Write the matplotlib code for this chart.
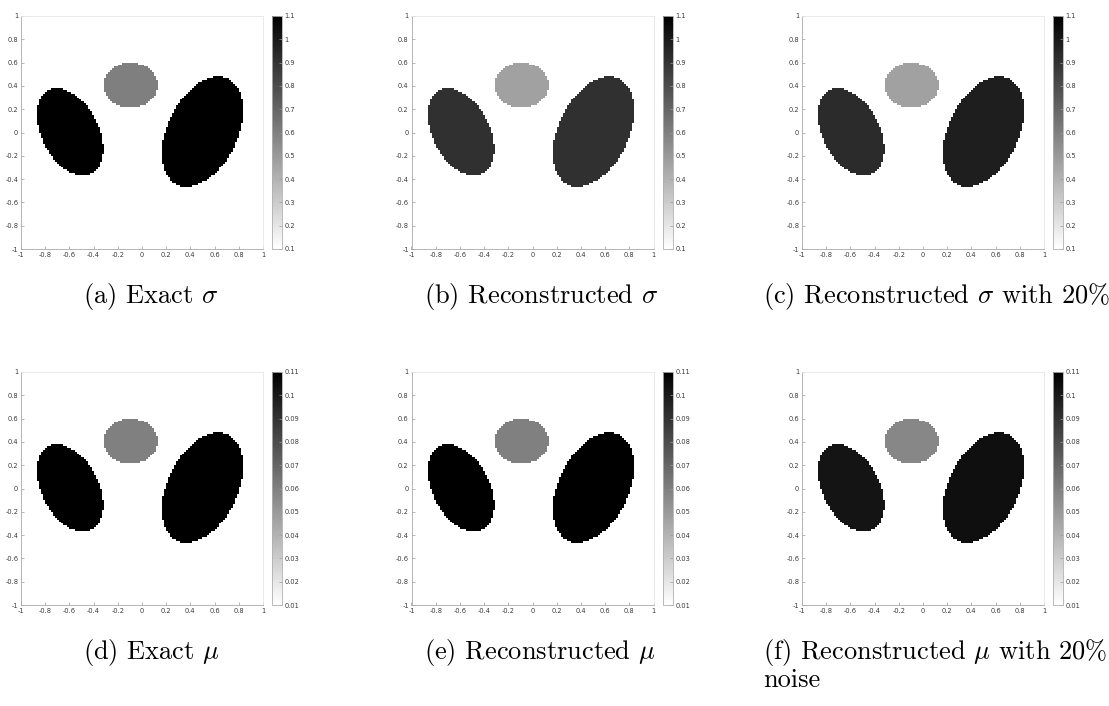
import numpy as np
import matplotlib
matplotlib.use("Agg")
import matplotlib.pyplot as plt

plt.rcParams['mathtext.fontset'] = 'cm'

# phantom shapes: centre x, centre y, semi-axis a, semi-axis b, angle (deg)
shape_cx = [-0.095, -0.595, 0.50]
shape_cy = [0.405, 0.005, 0.007]
shape_a = [0.225, 0.40, 0.50]
shape_b = [0.195, 0.235, 0.29]
shape_ang = [0, 115, 66]

# values per panel (a)..(f): background, disk, left ellipse, right ellipse
bg_vals = [0.1, 0.1, 0.1, 0.01, 0.01, 0.01]
disk_vals = [0.6, 0.47, 0.47, 0.06, 0.06, 0.057]
left_vals = [1.1, 0.91, 0.93, 0.11, 0.11, 0.102]
right_vals = [1.1, 0.91, 0.98, 0.11, 0.11, 0.104]
cmin = [0.1, 0.1, 0.1, 0.01, 0.01, 0.01]
cmax = [1.1, 1.1, 1.1, 0.11, 0.11, 0.11]

captions = [r"(a) Exact $\sigma$", r"(b) Reconstructed $\sigma$",
            r"(c) Reconstructed $\sigma$ with 20%",
            r"(d) Exact $\mu$", r"(e) Reconstructed $\mu$",
            r"(f) Reconstructed $\mu$ with 20%"]
extra_line = ["", "", "", "", "", "noise"]

xy_ticks = [-1, -0.8, -0.6, -0.4, -0.2, 0, 0.2, 0.4, 0.6, 0.8, 1]
xy_labels = ["-1", "-0.8", "-0.6", "-0.4", "-0.2", "0", "0.2", "0.4", "0.6", "0.8", "1"]
cb_sigma_ticks = [0.1, 0.2, 0.3, 0.4, 0.5, 0.6, 0.7, 0.8, 0.9, 1.0, 1.1]
cb_sigma_labels = ["0.1", "0.2", "0.3", "0.4", "0.5", "0.6", "0.7", "0.8", "0.9", "1", "1.1"]
cb_mu_ticks = [0.01, 0.02, 0.03, 0.04, 0.05, 0.06, 0.07, 0.08, 0.09, 0.10, 0.11]
cb_mu_labels = ["0.01", "0.02", "0.03", "0.04", "0.05", "0.06", "0.07", "0.08", "0.09", "0.1", "0.11"]

N = 120
W, H = 1109, 706

# grid of cell centres
g = (np.arange(N) + 0.5) / N * 2 - 1
X, Y = np.meshgrid(g, g)


def inside(k):
    t = np.deg2rad(shape_ang[k])
    dx = X - shape_cx[k]
    dy = Y - shape_cy[k]
    u = dx * np.cos(t) + dy * np.sin(t)
    v = -dx * np.sin(t) + dy * np.cos(t)
    return (u / shape_a[k]) ** 2 + (v / shape_b[k]) ** 2 <= 1


masks = [inside(k) for k in range(3)]

fig = plt.figure(figsize=(W / 100, H / 100), dpi=100)

col_left = [21, 411.5, 802]
row_top = [16, 372]
ax_w, ax_h = 242, 233
cap_x = [83, 424, 763]
cap_base = [303, 659]

for i in range(6):
    r, c = divmod(i, 3)
    img = np.full((N, N), bg_vals[i])
    img[masks[0]] = disk_vals[i]
    img[masks[1]] = left_vals[i]
    img[masks[2]] = right_vals[i]

    left = col_left[c] / W
    bottom = (H - row_top[r] - ax_h) / H
    ax = fig.add_axes([left, bottom, ax_w / W, ax_h / H])
    im = ax.imshow(img, extent=[-1, 1, -1, 1], origin='lower', aspect='auto',
                   cmap='gray_r', vmin=cmin[i], vmax=cmax[i], interpolation='nearest')
    ax.set_xticks(xy_ticks)
    ax.set_xticklabels(xy_labels)
    ax.set_yticks(xy_ticks)
    ax.set_yticklabels(xy_labels)
    ax.tick_params(direction='in', length=2, width=0.5, labelsize=4.8,
                   colors='#9a9a9a', labelcolor='#3a3a3a', pad=2)
    for s in ax.spines.values():
        s.set_linewidth(0.6)
        s.set_color('#e6e6e6')
    ax.spines['left'].set_color('#a8a8a8')
    ax.spines['bottom'].set_color('#a8a8a8')

    cax = fig.add_axes([(col_left[c] + 251) / W, bottom, 10 / W, ax_h / H])
    cb = fig.colorbar(im, cax=cax)
    if r == 0:
        cb.set_ticks(cb_sigma_ticks)
        cb.set_ticklabels(cb_sigma_labels)
    else:
        cb.set_ticks(cb_mu_ticks)
        cb.set_ticklabels(cb_mu_labels)
    cb.outline.set_linewidth(0.6)
    cb.outline.set_edgecolor('#b0b0b0')
    cax.tick_params(direction='in', length=2, width=0.5, labelsize=4.8,
                    colors='#9a9a9a', labelcolor='#3a3a3a', pad=2)

    fig.text(cap_x[c] / W, (H - cap_base[r]) / H, captions[i],
             fontfamily='cmr10', fontsize=19, va='baseline', ha='left')
    if extra_line[i]:
        fig.text(cap_x[c] / W, (H - cap_base[r] - 28) / H, extra_line[i],
                 fontfamily='cmr10', fontsize=19, va='baseline', ha='left')

fig.savefig("out.png", dpi=100)
